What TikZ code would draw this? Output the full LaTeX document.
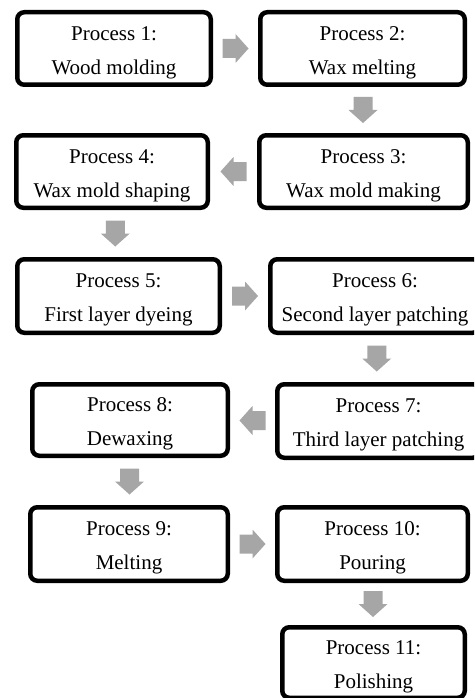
\documentclass[tikz,border=0pt]{standalone}
\usepackage{fontspec}
\setmainfont{Liberation Serif}
\usetikzlibrary{calc}
\definecolor{arrowgray}{HTML}{A6A6A6}
\tikzset{
  procbox/.style={draw=black, line width=4.5pt, rounded corners=7pt,
    fill=white, inner sep=0pt},
  proctext/.style={align=center, inner sep=0pt, yshift=-4pt,
    font=\fontsize{21}{34}\selectfont},
  blockarrow/.pic={
    \fill[arrowgray] (-13,-9.5) -- (0,-9.5) -- (0,-14.5) -- (13,0)
      -- (0,14.5) -- (0,9.5) -- (-13,9.5) -- cycle;
  }
}
\begin{document}
\begin{tikzpicture}[x=1pt, y=-1pt]
\useasboundingbox (0,0) rectangle (474,698);
\clip (0,0) rectangle (474,698);
\fill[white] (0,0) rectangle (474,698);

% process boxes
\node[procbox, minimum width=193.5pt, minimum height=72.5pt] (b1) at (114,48.5) {};
\node[procbox, minimum width=204.5pt, minimum height=72.5pt] (b2) at (362.5,48.5) {};
\node[procbox, minimum width=208.5pt, minimum height=72.5pt] (b3) at (363.5,171.5) {};
\node[procbox, minimum width=191.5pt, minimum height=72.5pt] (b4) at (112,171.5) {};
\node[procbox, minimum width=202.5pt, minimum height=73.5pt] (b5) at (118.5,296) {};
\node[procbox, minimum width=209.5pt, minimum height=73.5pt] (b6) at (375,296) {};
\node[procbox, minimum width=202.5pt, minimum height=73.5pt] (b7) at (378.5,421) {};
\node[procbox, minimum width=195.5pt, minimum height=71.5pt] (b8) at (130,420) {};
\node[procbox, minimum width=197.5pt, minimum height=73.5pt] (b9) at (129,544) {};
\node[procbox, minimum width=190.5pt, minimum height=73.5pt] (b10) at (372.5,544) {};
\node[procbox, minimum width=182.5pt, minimum height=70.5pt] (b11) at (373.5,662.5) {};

% step labels
\node[proctext] (t1) at (b1.center) {Process 1:\\Wood molding};
\node[proctext] (t2) at (b2.center) {Process 2:\\Wax melting};
\node[proctext] (t3) at (b3.center) {Process 3:\\Wax mold making};
\node[proctext] (t4) at (b4.center) {Process 4:\\Wax mold shaping};
\node[proctext] (t5) at (b5.center) {Process 5:\\First layer dyeing};
\node[proctext] (t6) at (b6.center) {Process 6:\\Second layer patching};
\node[proctext] (t7) at (b7.center) {Process 7:\\Third layer patching};
\node[proctext] (t8) at (b8.center) {Process 8:\\Dewaxing};
\node[proctext] (t9) at (b9.center) {Process 9:\\Melting};
\node[proctext] (t10) at (b10.center) {Process 10:\\Pouring};
\node[proctext] (t11) at (b11.center) {Process 11:\\Polishing};

% block arrows between consecutive steps
\pic at ($(b1.east)!0.5!(b2.west)$) {blockarrow};
\pic[rotate=-90] at ($(b2.south)!0.5!(b3.north)$) {blockarrow};
\pic[rotate=180] at ($(b3.west)!0.5!(b4.east)$) {blockarrow};
\pic[rotate=-90] at ($(b4.south)!0.5!(b5.north)$) {blockarrow};
\pic at ($(b5.east)!0.5!(b6.west)$) {blockarrow};
\pic[rotate=-90] at ($(b6.south)!0.5!(b7.north)$) {blockarrow};
\pic[rotate=180] at ($(b7.west)!0.5!(b8.east)$) {blockarrow};
\pic[rotate=-90] at ($(b8.south)!0.5!(b9.north)$) {blockarrow};
\pic at ($(b9.east)!0.5!(b10.west)$) {blockarrow};
\pic[rotate=-90] at ($(b10.south)!0.5!(b11.north)$) {blockarrow};
\end{tikzpicture}
\end{document}
